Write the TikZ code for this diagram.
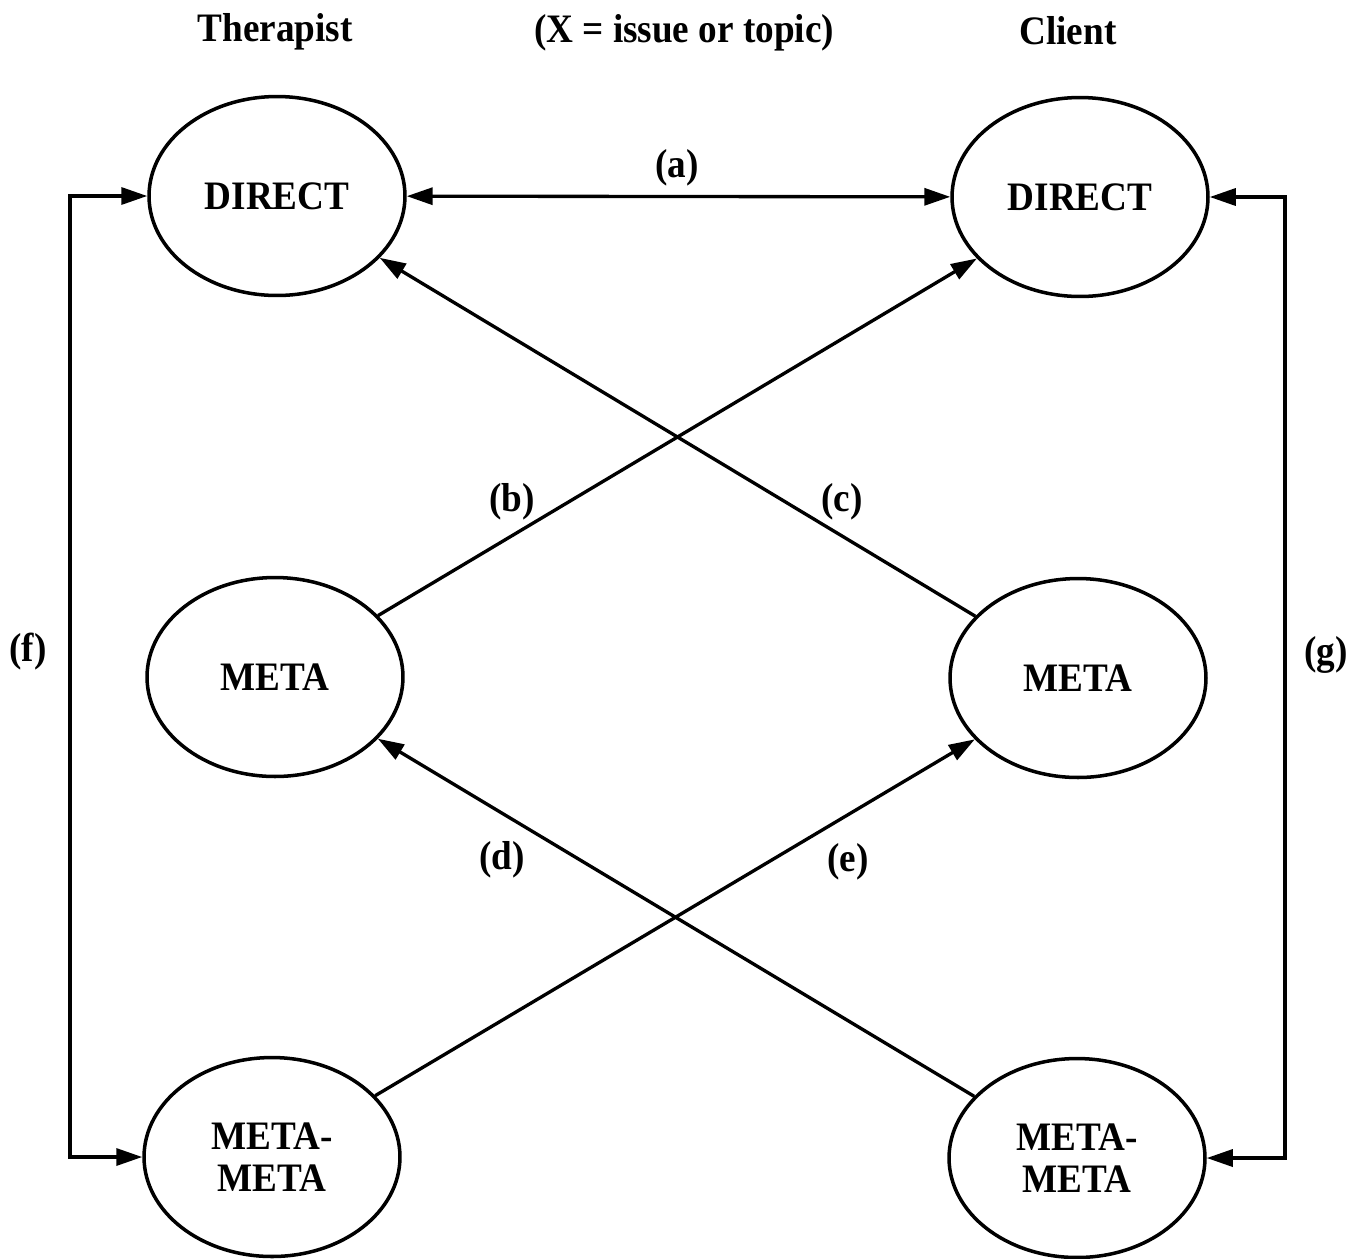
\documentclass[tikz,border=0pt]{standalone}
\usepackage{fontspec}
\setmainfont{Liberation Serif}[FakeStretch=0.92]
\usetikzlibrary{arrows.meta,shapes.geometric}
\begin{document}
\begin{tikzpicture}[x=0.02cm,y=-0.02cm,
  font=\fontsize{23pt}{23.5pt}\selectfont\bfseries,
  lvl/.style={ellipse,draw,line width=2pt,minimum width=5.12cm,minimum height=3.98cm,inner sep=0pt,align=center},
  lbl/.style={inner sep=0pt},
  every path/.style={line width=1.9pt},
  >={Triangle[length=0.52cm,width=0.34cm]}]
\useasboundingbox (0,0) rectangle (1364,1258);

\node[lbl,anchor=base] (ther) at (275,41) {Therapist};
\node[lbl,anchor=base] (xlab) at (684,42) {(X = issue or topic)};
\node[lbl,anchor=base] (cli) at (1068,44) {Client};

\node[lvl] (td) at (277,196) {DIRECT};
\node[lvl] (cd) at (1080,197) {DIRECT};
\node[lvl] (tm) at (275,677) {META};
\node[lvl] (cm) at (1078,678) {META};
\node[lvl] (tmm) at (272,1157) {META-\\META};
\node[lvl] (cmm) at (1077,1158) {META-\\META};

\draw[<->] (td) -- (cd);
\draw[->] (tm) -- (cd);
\draw[->] (cm) -- (td);
\draw[->] (tmm) -- (cm);
\draw[->] (cmm) -- (tm);

\coordinate (fx) at (70,0);
\coordinate (gx) at (1285,0);
\draw[<->] (td.west) -- (td.west -| fx) -- (tmm.west -| fx) -- (tmm.west);
\draw[<->] (cd.east) -- (cd.east -| gx) -- (cmm.east -| gx) -- (cmm.east);

\node[lbl] (la) at (677,168) {(a)};
\node[lbl] (lb) at (512,502) {(b)};
\node[lbl] (lc) at (842,502) {(c)};
\node[lbl] (ld) at (502,860) {(d)};
\node[lbl] (le) at (848,862) {(e)};
\node[lbl] (lf) at (28,652) {(f)};
\node[lbl] (lg) at (1326,655) {(g)};
\end{tikzpicture}
\end{document}
